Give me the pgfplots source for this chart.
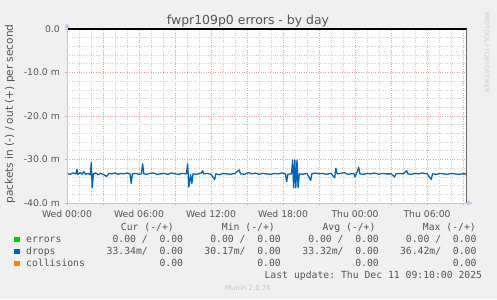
\documentclass[border=0pt]{standalone}
\usepackage{pgfplots}
\pgfplotsset{compat=1.18}
\usepackage{fontspec}
\setmainfont{DejaVu Sans}
\setmonofont{DejaVu Sans Mono}
\usetikzlibrary{arrows.meta}
\definecolor{bgc}{HTML}{F0F0F0}
\definecolor{txt}{HTML}{555555}
\definecolor{axc}{RGB}{196,196,240}
\definecolor{drops}{HTML}{0066B3}
\definecolor{errs}{HTML}{00CC00}
\definecolor{coll}{HTML}{FF8000}
\definecolor{mgrid}{HTML}{E8A0A0}
\definecolor{ngrid}{HTML}{D0D0D0}
\begin{document}
\begin{tikzpicture}[x=1bp,y=1bp]
\fill[bgc] (0,0) rectangle (497,299);
\useasboundingbox (0,0) rectangle (497,299);
\begin{axis}[
  at={(67bp,96bp)}, anchor=south west,
  width=399.7bp, height=174bp, scale only axis,
  xmin=0, xmax=33.3, ymin=-40, ymax=0,
  axis background/.style={fill=white},
  axis line style={draw=none},
  xtick={0,3,...,33},
  xticklabels={Wed 00:00,,Wed 06:00,,Wed 12:00,,Wed 18:00,,Thu 00:00,,Thu 06:00,},
  minor x tick num=2,
  ytick={-40,-30,-20,-10,0},
  yticklabels={-40.0 m,-30.0 m,-20.0 m,-10.0 m,0.0},
  minor y tick num=4,
  grid=both,
  major grid style={dotted, color=mgrid, line width=0.7bp},
  minor grid style={dotted, color=ngrid, line width=0.7bp},
  tick align=outside,
  major tick length=2bp, minor tick length=0bp,
  tick style={color=mgrid},
  xtick pos=bottom, ytick pos=left,
  ticklabel style={font=\fontsize{9.3}{11}\selectfont, text=txt, inner sep=0pt},
  xticklabel style={yshift=-5bp},
  yticklabel style={xshift=-5bp},
  /pgf/number format/assume math mode=true,
  clip=false,
]
\addplot[errs, line width=0.4bp] coordinates {(0,0) (33.3,0)};
\addplot[coll, line width=0.4bp] coordinates {(0,0) (33.3,0)};
\addplot[drops, line width=1.3bp, line join=round] coordinates {
(0,-33.2) (0.25,-33.4) (0.5,-33.1) (0.75,-33.3) (0.82,-32.3) (0.9,-33.4) (1.1,-33.0) (1.25,-33.4)
(1.4,-32.8) (1.55,-33.4) (1.75,-33.2) (1.95,-33.5) (2.02,-30.7) (2.1,-36.5) (2.2,-33.3) (2.4,-33.1)
(2.6,-33.5) (2.8,-33.2) (3.0,-33.4) (3.3,-33.9) (3.5,-33.2) (3.75,-33.3) (4.0,-33.1) (4.25,-33.4)
(4.5,-33.2) (4.75,-33.3) (5.0,-33.1) (5.25,-33.3) (5.35,-35.5) (5.45,-33.3) (5.75,-33.2) (6.0,-33.4)
(6.2,-33.3) (6.3,-31.0) (6.4,-33.3) (6.6,-33.4) (6.9,-33.2) (7.2,-33.1) (7.5,-33.4) (7.8,-33.3)
(8.1,-33.2) (8.4,-33.4) (8.7,-33.1) (9.0,-33.3) (9.3,-33.4) (9.6,-33.2) (9.95,-33.3) (10.05,-31.0)
(10.15,-36.3) (10.3,-33.5) (10.4,-35.5) (10.5,-33.3) (10.8,-33.4) (11.2,-33.1) (11.3,-32.6) (11.4,-33.3)
(11.7,-33.2) (12.0,-33.4) (12.3,-34.6) (12.4,-33.3) (12.7,-33.5) (13.0,-33.2) (13.3,-33.3) (13.6,-33.4)
(14.0,-33.2) (14.35,-32.4) (14.45,-33.3) (14.8,-33.4) (15.1,-33.0) (15.4,-33.3) (15.7,-33.1) (16.0,-33.4)
(16.3,-33.2) (16.6,-33.3) (17.0,-33.4) (17.3,-33.2) (17.6,-33.3) (17.9,-33.1) (18.2,-33.3) (18.3,-35.1)
(18.4,-33.4) (18.7,-33.3) (18.8,-30.1) (18.88,-36.5) (18.98,-30.1) (19.06,-36.5) (19.16,-30.1) (19.25,-36.5)
(19.35,-33.3) (19.6,-33.4) (20.0,-33.2) (20.3,-34.8) (20.4,-33.3) (20.7,-33.1) (21.0,-33.3) (21.3,-33.2)
(21.6,-33.4) (22.0,-33.2) (22.3,-34.2) (22.4,-32.0) (22.5,-33.3) (22.8,-33.2) (23.1,-33.0) (23.4,-33.4)
(23.9,-33.2) (24.0,-34.0) (24.1,-33.3) (24.3,-31.8) (24.4,-33.3) (24.7,-33.4) (25.0,-33.2) (25.3,-33.3)
(25.6,-33.1) (26.0,-33.4) (26.3,-33.2) (26.6,-33.3) (27.0,-33.3) (27.3,-34.0) (27.4,-33.3) (27.7,-33.2)
(28.0,-33.3) (28.3,-32.6) (28.4,-33.3) (28.7,-33.4) (29.0,-33.2) (29.3,-33.3) (29.6,-33.1) (30.0,-33.3)
(30.35,-34.6) (30.45,-33.3) (30.8,-33.4) (31.1,-33.2) (31.4,-33.3) (31.7,-33.4) (32.0,-33.2) (32.3,-33.3)
(32.6,-33.4) (33.0,-33.3) (33.3,-33.3)
};
\draw[black, line width=1.1bp] (axis cs:0,0) -- (axis cs:33.3,0);
\draw[axc, line width=0.8bp, -{Triangle[length=5bp,width=5bp]}] (axis cs:0,-40) -- ([xshift=6bp]axis cs:33.3,-40);
\draw[axc, line width=0.8bp, -{Triangle[length=5bp,width=5bp]}] (axis cs:0,-40) -- ([yshift=6bp]axis cs:0,0);
\draw[black!60, line width=0.8bp] (axis cs:33.3,-40) -- (axis cs:33.3,0);
\end{axis}
% title and labels
\node[anchor=base, inner sep=0, text=txt, font=\fontsize{12.5}{14}\selectfont] at (248,275) {fwpr109p0 errors - by day};
\node[rotate=90, inner sep=0, text=txt, font=\fontsize{10.6}{12}\selectfont] at (10,185) {packets in (-) / out (+) per second};
\node[rotate=-90, inner sep=0, text=black!20, font=\fontsize{6.3}{7}\selectfont] at (487,246.5) {RRDTOOL / TOBI OETIKER};
% legend
\begin{scope}[every node/.style={inner sep=0, text=txt, font=\ttfamily\fontsize{9.8}{11}\selectfont}]
\node[anchor=mid east] at (174,71.3) {Cur (-/+)};
\node[anchor=mid east] at (275,71.3) {Min (-/+)};
\node[anchor=mid east] at (375.7,71.3) {Avg (-/+)};
\node[anchor=mid east] at (476,71.3) {Max (-/+)};
\fill[errs] (14,57) rectangle (19.5,62.5);
\fill[drops] (14,44.6) rectangle (19.5,50.1);
\fill[coll] (14,32.6) rectangle (19.5,38.1);
\node[anchor=mid west] at (26,59.7) {errors};
\node[anchor=mid west] at (26,47.3) {drops};
\node[anchor=mid west] at (26,35.3) {collisions};
\node[anchor=mid east] at (183.3,59.7) {0.00\ /\ \ 0.00};
\node[anchor=mid east] at (281,59.7) {0.00\ /\ \ 0.00};
\node[anchor=mid east] at (379,59.7) {0.00\ /\ \ 0.00};
\node[anchor=mid east] at (476.7,59.7) {0.00\ /\ \ 0.00};
\node[anchor=mid east] at (183.3,47.3) {33.34m/\ \ 0.00};
\node[anchor=mid east] at (281,47.3) {30.17m/\ \ 0.00};
\node[anchor=mid east] at (379,47.3) {33.32m/\ \ 0.00};
\node[anchor=mid east] at (476.7,47.3) {36.42m/\ \ 0.00};
\node[anchor=mid east] at (183.3,35.3) {0.00};
\node[anchor=mid east] at (281,35.3) {0.00};
\node[anchor=mid east] at (379,35.3) {0.00};
\node[anchor=mid east] at (476.7,35.3) {0.00};
\node[anchor=mid east] at (482.3,23.3) {Last update: Thu Dec 11 09:10:00 2025};
\end{scope}
\node[inner sep=0, text=black!22, font=\fontsize{7}{8}\selectfont] at (248,10.7) {Munin 2.0.76};
\end{tikzpicture}
\end{document}
